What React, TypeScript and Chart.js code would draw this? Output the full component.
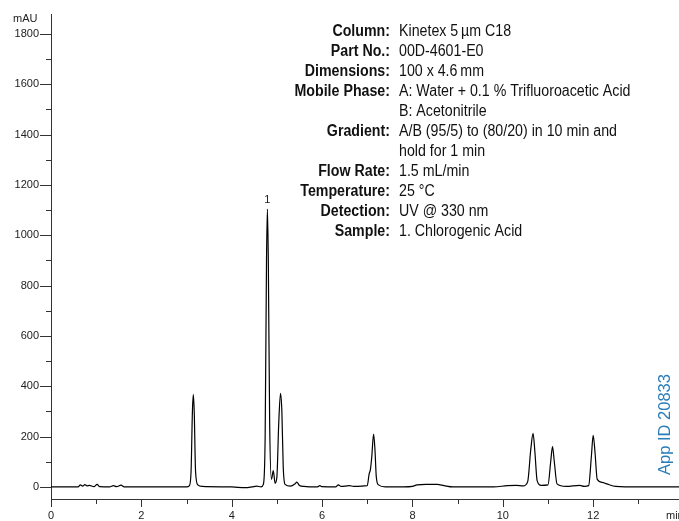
import React, { useEffect, useRef } from "react";
import { Chart, registerables } from "chart.js";

Chart.register(...registerables);

// Retention time (min)
const times = [
  0, 0.6, 0.65, 0.7, 0.75, 0.8, 0.85, 0.95, 1.02, 1.08, 1.3, 1.38, 1.45, 1.55, 1.62,
  2.5, 3.0, 3.06, 3.1, 3.13, 3.15, 3.17, 3.2, 3.25, 3.35,
  4.0, 4.3, 4.45, 4.55, 4.65, 4.7, 4.74, 4.77, 4.79, 4.81, 4.84, 4.88, 4.92, 4.96, 5.0,
  5.04, 5.08, 5.11, 5.14, 5.18, 5.3, 5.4, 5.44, 5.5, 5.6, 5.9, 5.95, 6.0, 6.3, 6.36, 6.42,
  6.6, 6.7, 7.0, 7.04, 7.07, 7.1, 7.14, 7.17, 7.2, 7.25, 7.4, 7.8, 8.0, 8.1, 8.3, 8.55,
  8.7, 8.9, 9.8, 10.1, 10.3, 10.45, 10.55, 10.62, 10.67, 10.71, 10.76, 10.85, 11.0,
  11.06, 11.1, 11.14, 11.2, 11.4, 11.7, 11.8, 11.9, 11.96, 12.0, 12.04, 12.09, 12.2,
  12.3, 12.5, 13.0, 13.9,
];
// Absorbance (mAU)
const absorbance = [
  0, 0, 8, 3, 9, 4, 6, 1, 10, 1, 0, 5, 1, 7, 0,
  0, 0, 4, 60, 300, 367, 300, 60, 8, 2,
  0, -3, 0, 3, 0, 10, 200, 900, 1104, 900, 250, 30, 65, 15, 40,
  250, 372, 300, 80, 10, 3, 12, 19, 6, 2, 0, 5, 1, 0, 8, 2,
  5, 2, 5, 50, 70, 120, 210, 150, 40, 8, 0, 0, 2, 8, 10, 10,
  5, 0, 0, 5, 6, 4, 20, 150, 213, 140, 25, 6, 8,
  100, 160, 100, 12, 2, 6, 2, 5, 120, 205, 140, 30, 18,
  12, 2, 0, 0,
];

const xMin = 0;
const xMax = 13.9;
const yMin = -48;
const yMax = 1879;

const peakLabels = ["1"];
const peakTimes = [4.79];
const peakHeights = [1104];

const infoLabels = [
  "Column:", "Part No.:", "Dimensions:", "Mobile Phase:", "", "Gradient:", "",
  "Flow Rate:", "Temperature:", "Detection:", "Sample:",
];
const infoValues = [
  "Kinetex 5\u202Fµm C18", "00D-4601-E0", "100 x 4.6\u202Fmm",
  "A: Water + 0.1 % Trifluoroacetic Acid", "B: Acetonitrile",
  "A/B (95/5) to (80/20) in 10 min and", "hold for 1 min",
  "1.5 mL/min", "25 °C", "UV @ 330 nm", "1. Chlorogenic Acid",
];

const yUnit = "mAU";
const xUnit = "min";
const appId = "App ID 20833";

const FONT = "'Liberation Sans', Arial, Helvetica, sans-serif";

function condensedText(ctx: any, text: string, x: number, y: number, align: string) {
  const sx = 0.888;
  ctx.save();
  ctx.translate(x, y);
  ctx.scale(sx, 1);
  ctx.textAlign = align;
  ctx.fillText(text, 0, 0);
  ctx.restore();
}

const decorPlugin = {
  id: "decor",
  afterDraw(chart: any) {
    const ctx = chart.ctx;
    const xs = chart.scales.x;
    const ys = chart.scales.y;
    const left = chart.chartArea.left;
    const bottom = chart.chartArea.bottom;
    ctx.save();
    ctx.strokeStyle = "#333";
    ctx.lineWidth = 1;
    // y ticks
    for (let v = 0; v <= 1800; v += 100) {
      const py = Math.round(ys.getPixelForValue(v)) + 0.5;
      const len = v % 200 === 0 ? 11 : 5;
      ctx.beginPath();
      ctx.moveTo(left - len, py);
      ctx.lineTo(left, py);
      ctx.stroke();
    }
    // x ticks
    for (let v = 0; v <= 13; v += 1) {
      const px = Math.round(xs.getPixelForValue(v)) + 0.5;
      const len = v % 2 === 0 ? 8 : 5;
      ctx.beginPath();
      ctx.moveTo(px, bottom);
      ctx.lineTo(px, bottom + len);
      ctx.stroke();
    }
    // units
    ctx.fillStyle = "#222";
    ctx.font = `11px ${FONT}`;
    ctx.textBaseline = "middle";
    ctx.textAlign = "left";
    ctx.fillText(yUnit, 13, 19);
    ctx.fillText(xUnit, 666, 516);
    // peak labels
    ctx.textAlign = "center";
    ctx.textBaseline = "alphabetic";
    peakLabels.forEach((lab, i) => {
      const px = xs.getPixelForValue(peakTimes[i]);
      const py = ys.getPixelForValue(peakHeights[i]);
      ctx.fillText(lab, px, py - 6);
    });
    // info block
    ctx.textBaseline = "middle";
    ctx.fillStyle = "#111";
    for (let i = 0; i < infoValues.length; i++) {
      const y = 31.5 + 20 * i;
      if (infoLabels[i]) {
        ctx.font = `bold 16px ${FONT}`;
        condensedText(ctx, infoLabels[i], 390, y, "right");
      }
      ctx.font = `16px ${FONT}`;
      condensedText(ctx, infoValues[i], 399, y, "left");
    }
    // app id
    ctx.save();
    ctx.translate(670, 475);
    ctx.rotate(-Math.PI / 2);
    ctx.fillStyle = "#2a7db8";
    ctx.font = `16.5px ${FONT}`;
    ctx.textAlign = "left";
    ctx.textBaseline = "alphabetic";
    ctx.fillText(appId, 0, 0);
    ctx.restore();
    ctx.restore();
  },
};

export default function App() {
  const ref = useRef<HTMLCanvasElement>(null);
  useEffect(() => {
    if (!ref.current) return;
    const points = times.map((t, i) => ({ x: t, y: absorbance[i] }));
    const chart = new Chart(ref.current, {
      type: "line",
      data: {
        datasets: [
          {
            data: points,
            borderColor: "#000",
            borderWidth: 1.2,
            pointRadius: 0,
            cubicInterpolationMode: "monotone",
            fill: false,
          },
        ],
      },
      options: {
        animation: false,
        responsive: true,
        maintainAspectRatio: false,
        layout: { padding: { top: 14, left: 0, right: 0, bottom: 0 } },
        plugins: { legend: { display: false }, tooltip: { enabled: false } },
        scales: {
          x: {
            type: "linear",
            min: xMin,
            max: xMax,
            afterFit: (s: any) => {
              s.height = 22;
              s.paddingLeft = 0;
              s.paddingRight = 0;
            },
            grid: { display: false, drawTicks: false, tickLength: 0 },
            border: { display: true, color: "#333", width: 1 },
            ticks: {
              stepSize: 1,
              includeBounds: false,
              autoSkip: false,
              maxRotation: 0,
              padding: 10,
              color: "#222",
              font: { family: FONT, size: 11 },
              callback: (v: any) => (Number(v) % 2 === 0 ? String(v) : ""),
            },
          },
          y: {
            type: "linear",
            min: yMin,
            max: yMax,
            afterFit: (s: any) => {
              s.width = 51;
              s.paddingTop = 0;
              s.paddingBottom = 0;
            },
            grid: { display: false, drawTicks: false, tickLength: 0 },
            border: { display: true, color: "#333", width: 1 },
            ticks: {
              stepSize: 100,
              includeBounds: false,
              autoSkip: false,
              padding: 12,
              color: "#222",
              font: { family: FONT, size: 11 },
              callback: (v: any) => (Number(v) % 200 === 0 ? String(v) : ""),
            },
          },
        },
      },
      plugins: [decorPlugin],
    });
    return () => chart.destroy();
  }, []);
  return (
    <div style={{ position: "absolute", left: 0, top: 0, width: 679, height: 521, background: "#fff" }}>
      <canvas ref={ref} />
    </div>
  );
}
